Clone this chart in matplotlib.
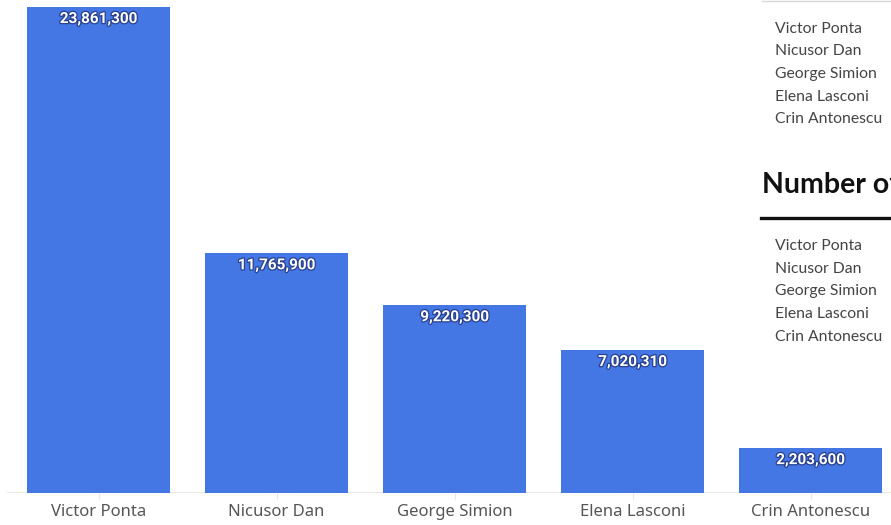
import matplotlib
matplotlib.use("Agg")
import matplotlib.pyplot as plt
import matplotlib.patheffects as pe

candidates = ["Victor Ponta", "Nicusor Dan", "George Simion", "Elena Lasconi", "Crin Antonescu"]
values = [23861300, 11765900, 9220300, 7020310, 2203600]
heading = "Number of"

W, H = 891, 525
fig = plt.figure(figsize=(W / 100, H / 100), dpi=100)
fig.patch.set_facecolor("white")

base_px = 493
ax = fig.add_axes([0, (H - base_px) / H, 1, base_px / H])
ax.set_facecolor("none")

step = 178.0
first_center = 98.5
ax.set_xlim(-first_center / step, (W - first_center) / step)
ymax = values[0] * base_px / 486.0
ax.set_ylim(0, ymax)

xs = list(range(len(candidates)))
bars = ax.bar(xs, values, width=143 / step, color="#4577e4", zorder=2)

for side in ax.spines.values():
    side.set_visible(False)
ax.set_yticks([])
ax.set_xticks(xs)
ax.set_xticklabels(candidates, fontsize=12, color="#555555", family="Noto Sans")
ax.tick_params(axis="x", length=4, color="#e6e6e6", pad=4)
ax.axhline(0, xmin=8 / W, xmax=1, color="#e3e3e3", lw=1.2, zorder=1)

px_to_data = ymax / base_px
for x, v in zip(xs, values):
    ax.text(x, v - 12 * px_to_data, f"{v:,}", ha="center", va="center",
            fontsize=11, fontweight="bold", color="white", family="Roboto",
            path_effects=[pe.withStroke(linewidth=1.8, foreground="#27408f")], zorder=3)

# side panel with two candidate lists
def fy(py):
    return 1 - py / H

fig.add_artist(plt.Line2D([762 / W, 1], [fy(1), fy(1)], color="#d8d8d8", lw=1))
for name, py in zip(candidates, [29, 51, 74, 97, 119]):
    fig.text(775 / W, fy(py), name, ha="left", va="center", fontsize=11.3,
             color="#444444", family="Lato")
fig.text(762 / W, fy(185), heading, ha="left", va="center", fontsize=20.5,
         fontweight="bold", color="#111111", family="Lato")
fig.add_artist(plt.Line2D([761 / W, 1], [fy(218), fy(218)], color="#111111", lw=2.4))
for name, py in zip(candidates, [246, 269, 291, 314, 337]):
    fig.text(775 / W, fy(py), name, ha="left", va="center", fontsize=11.3,
             color="#444444", family="Lato")

fig.savefig("out.png", dpi=100)
